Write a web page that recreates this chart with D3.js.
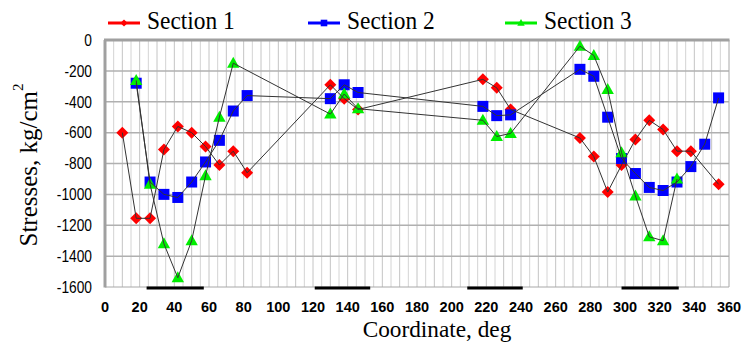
<!DOCTYPE html>
<html><head><meta charset="utf-8">
<script src="https://cdn.jsdelivr.net/npm/d3@7"></script>
<style>body{margin:0;background:#fff}svg{display:block}</style>
</head><body>
<svg id="c" width="747" height="349"></svg>
<script>
const xTicks = [0,20,40,60,80,100,120,140,160,180,200,220,240,260,280,300,320,340,360];
const yTicks = [0,-200,-400,-600,-800,-1000,-1200,-1400,-1600];
const seriesNames = ["Section 1","Section 2","Section 3"];
const sec1X = [10,18,26,34,42,50,58,66,74,82,130,138,146,218,226,234,274,282,290,298,306,314,322,330,338,354];
const sec1Y = [-600,-1155,-1155,-710,-560,-600,-690,-810,-720,-860,-290,-380,-450,-255,-310,-450,-635,-755,-985,-810,-645,-520,-580,-720,-720,-935];
const sec2X = [18,26,34,42,50,58,66,74,82,130,138,146,218,226,234,274,282,290,298,306,314,322,330,338,346,354];
const sec2Y = [-280,-920,-1000,-1020,-920,-790,-650,-460,-360,-380,-290,-340,-430,-490,-485,-190,-235,-500,-768,-865,-955,-975,-920,-820,-675,-375];
const sec3X = [18,26,34,42,50,58,66,74,130,138,146,218,226,234,274,282,290,298,306,314,322,330];
const sec3Y = [-262,-935,-1320,-1540,-1300,-880,-500,-150,-480,-350,-445,-520,-625,-605,-40,-100,-320,-730,-1010,-1275,-1300,-900];
const bandStart = [24,121,209,298];
const bandEnd = [57,153,241,331];

const svg = d3.select("#c");
const L=105, R=729, T=40, B=287;
const x = d3.scaleLinear().domain([0,360]).range([L,R]);
const y = d3.scaleLinear().domain([0,-1600]).range([T,B]);

// vertical grid every 5 deg
const g = svg.append("g");
g.selectAll("line.v").data(d3.range(5,360,5)).join("line")
  .attr("x1",d=>x(d)).attr("x2",d=>x(d)).attr("y1",T).attr("y2",B)
  .attr("stroke",d=>d%10===0?"#c4c4c4":"#d4d4d4").attr("stroke-width",1);
g.selectAll("line.h").data(yTicks.slice(1,-1)).join("line")
  .attr("x1",L).attr("x2",R).attr("y1",d=>y(d)).attr("y2",d=>y(d))
  .attr("stroke","#b0b0b0").attr("stroke-width",1.5);
// borders
g.append("line").attr("x1",L).attr("x2",R).attr("y1",B).attr("y2",B).attr("stroke","#a8a8a8").attr("stroke-width",1);
g.append("line").attr("x1",R).attr("x2",R).attr("y1",T).attr("y2",B).attr("stroke","#a8a8a8").attr("stroke-width",1);
g.append("line").attr("x1",L-1).attr("x2",R+0.5).attr("y1",T).attr("y2",T).attr("stroke","#a0a0a0").attr("stroke-width",3);
g.append("line").attr("x1",L).attr("x2",L).attr("y1",T).attr("y2",B+0.5).attr("stroke","#a0a0a0").attr("stroke-width",3);

// black bands
svg.selectAll("line.band").data(bandStart).join("line")
  .attr("x1",d=>x(d)).attr("x2",(d,i)=>x(bandEnd[i])).attr("y1",B+1).attr("y2",B+1)
  .attr("stroke","#000").attr("stroke-width",3);

// axes labels
svg.append("g").selectAll("text").data(yTicks).join("text")
  .attr("transform",d=>`translate(92,${y(d)}) scale(0.86,1)`).attr("dy","0.36em").attr("text-anchor","end")
  .attr("font-family","Liberation Sans, Arial, sans-serif").attr("font-size",16).attr("fill","#000")
  .text(d=>d);
svg.append("g").selectAll("text").data(xTicks).join("text")
  .attr("x",d=>x(d)).attr("y",312).attr("text-anchor","middle")
  .attr("font-family","Liberation Sans, Arial, sans-serif").attr("font-size",14.5).attr("font-weight","bold").attr("fill","#000")
  .text(d=>d);

svg.append("text").attr("transform","translate(437,337) scale(0.97,1)").attr("text-anchor","middle")
  .attr("font-family","Liberation Serif, Times New Roman, serif").attr("font-size",24).text("Coordinate, deg");
const yt = svg.append("text").attr("transform","translate(37,165) rotate(-90)").attr("text-anchor","middle")
  .attr("font-family","Liberation Serif, Times New Roman, serif").attr("font-size",25);
yt.append("tspan").text("Stresses, kg/cm");
yt.append("tspan").attr("font-size",15).attr("dy","-0.95em").text("2");

// series
const series = [
  {xs:sec1X, ys:sec1Y, color:"#ff0000", kind:"diamond"},
  {xs:sec2X, ys:sec2Y, color:"#0000ff", kind:"square"},
  {xs:sec3X, ys:sec3Y, color:"#00ee00", kind:"triangle"}
];
function markerPath(s){
  if(s.kind==="diamond"){ return "M0,-6L6,0L0,6L-6,0Z"; }
  if(s.kind==="square"){ return "M-5.5,-5.5H5.5V5.5H-5.5Z"; }
  return "M0,-6.5L6.2,4.5L-6.2,4.5Z";
}
series.forEach(s=>{
  svg.append("g").selectAll("path").data(s.xs).join("path")
    .attr("transform",(d,i)=>`translate(${x(d)},${y(s.ys[i])})`)
    .attr("d",markerPath(s)).attr("fill",s.color);
});
const line = d3.line().x(d=>x(d[0])).y(d=>y(d[1]));
series.forEach(s=>{
  svg.append("path").datum(s.xs.map((d,i)=>[d,s.ys[i]])).attr("d",line)
    .attr("fill","none").attr("stroke","#333").attr("stroke-width",1);
});

// legend
const legX = [108,308,505];
series.forEach((s,i)=>{
  const lg = svg.append("g");
  lg.append("line").attr("x1",legX[i]).attr("x2",legX[i]+32).attr("y1",23).attr("y2",23).attr("stroke",s.color).attr("stroke-width",3);
  lg.append("path").attr("transform",`translate(${legX[i]+16},23) scale(0.6)`).attr("d",markerPath(s)).attr("fill",s.color);
  lg.append("text").attr("transform",`translate(${legX[i]+39},29) scale(0.9,1)`).attr("font-family","Liberation Serif, Times New Roman, serif").attr("font-size",26).text(seriesNames[i]);
});
</script>
</body></html>
